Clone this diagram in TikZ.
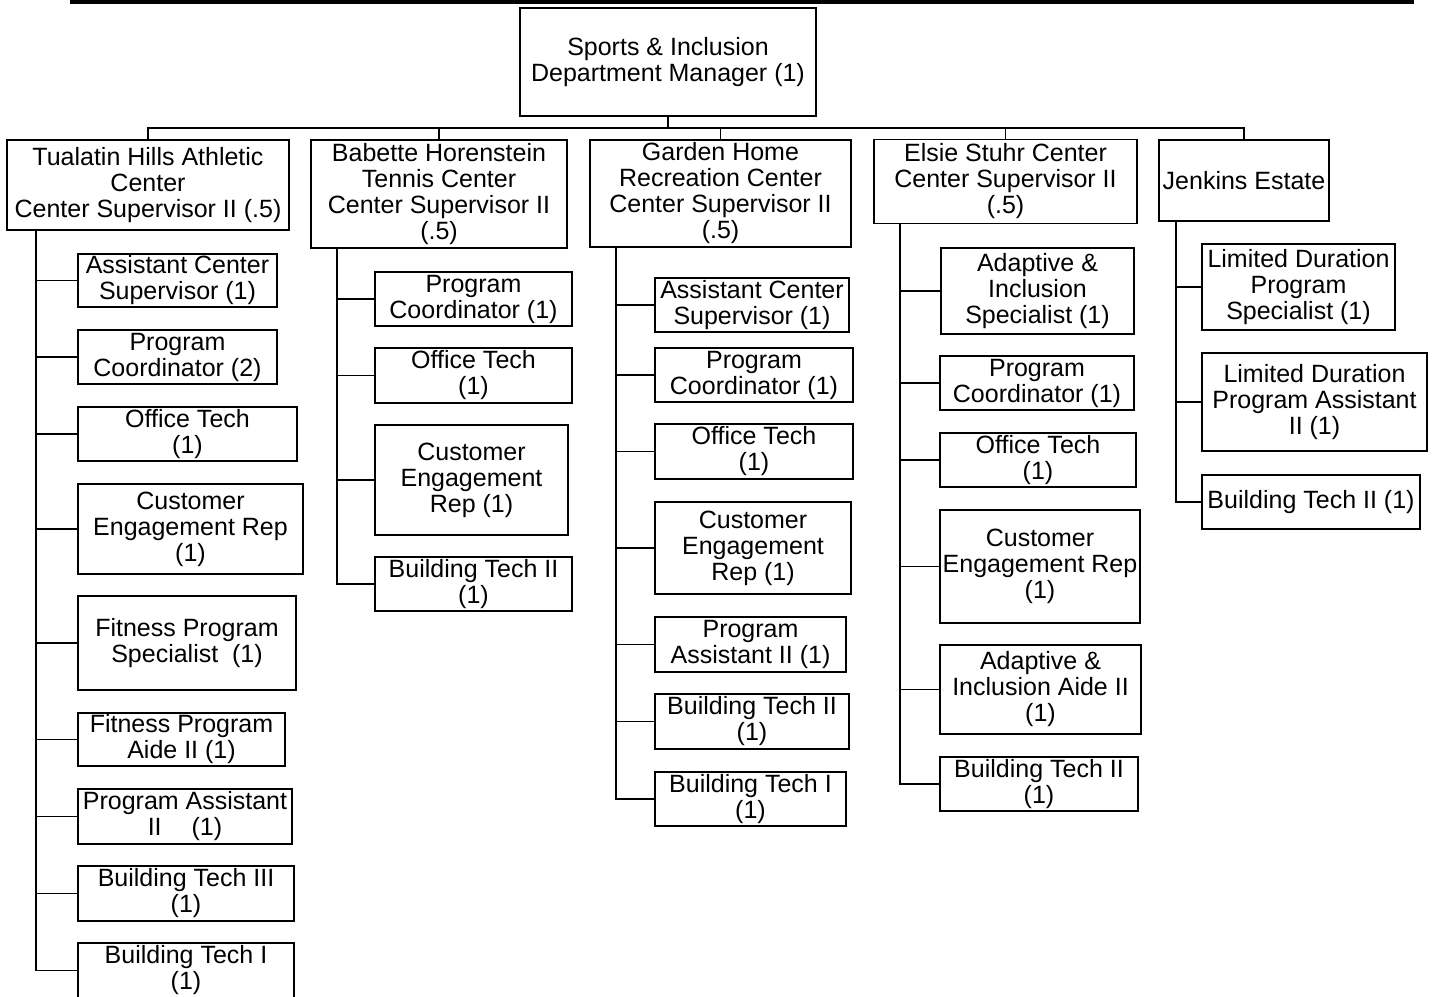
\documentclass[tikz,border=0pt]{standalone}
\usepackage{fontspec}
\setmainfont{Liberation Sans}

\begin{document}
\begin{tikzpicture}[
    x=1pt, y=-1pt,
    job/.style={draw, line width=1.2pt, align=center, inner sep=0pt,
                font=\fontsize{25}{26}\selectfont},
    wh/.style 2 args={minimum width=#1pt, minimum height=#2pt},
    link/.style={line width=1.2pt},
    spine/.style={line width=1.8pt},
]
\useasboundingbox (0,0) rectangle (1432,996);
\draw[line width=4.5pt] (70,2) -- (1414,2);

\node[job, wh={296}{108}] (mgr) at (668,62) {Sports \& Inclusion\\Department Manager (1)};
\node[job, wh={282}{90}]  (tha) at (148,185) {Tualatin Hills Athletic\\Center\\Center Supervisor II (.5)};
\node[job, wh={256}{108}] (bht) at (439,194) {Babette Horenstein\\Tennis Center\\Center Supervisor II\\(.5)};
\node[job, wh={261}{107}] (ghr) at (720.5,193.5) {Garden Home\\Recreation Center\\Center Supervisor II\\(.5)};
\node[job, wh={263}{84}]  (esc) at (1005.5,181.5) {Elsie Stuhr Center\\Center Supervisor II\\(.5)};
\node[job, wh={170}{81}]  (jen) at (1244,180.5) {Jenkins Estate};

\node[job, wh={199}{53}]  (t1) at (177.5,280.5) {Assistant Center\\Supervisor (1)};
\node[job, wh={199}{54}]  (t2) at (177.5,357) {Program\\Coordinator (2)};
\node[job, wh={219}{54}]  (t3) at (187.5,434) {Office Tech\\(1)};
\node[job, wh={225}{90}]  (t4) at (190.5,529) {Customer\\Engagement Rep\\(1)};
\node[job, wh={218}{94}]  (t5) at (187,643) {Fitness Program\\Specialist~~(1)};
\node[job, wh={207}{53}]  (t6) at (181.5,739.5) {Fitness Program\\Aide II (1)};
\node[job, wh={214}{55}]  (t7) at (185,816.5) {Program Assistant\\II\hspace{30pt}(1)};
\node[job, wh={216}{55}]  (t8) at (186,893.5) {Building Tech III\\(1)};
\node[job, wh={216}{55}]  (t9) at (186,970.5) {Building Tech I\\(1)};

\node[job, wh={197}{54}]  (b1) at (473.5,299) {Program\\Coordinator (1)};
\node[job, wh={197}{55}]  (b2) at (473.5,375.5) {Office Tech\\(1)};
\node[job, wh={193}{110}] (b3) at (471.5,480) {Customer\\Engagement\\Rep (1)};
\node[job, wh={197}{54}]  (b4) at (473.5,584) {Building Tech II\\(1)};

\node[job, wh={194}{54}]  (g1) at (752,305) {Assistant Center\\Supervisor (1)};
\node[job, wh={198}{54}]  (g2) at (754,375) {Program\\Coordinator (1)};
\node[job, wh={198}{55}]  (g3) at (754,451.5) {Office Tech\\(1)};
\node[job, wh={196}{92}]  (g4) at (753,548) {Customer\\Engagement\\Rep (1)};
\node[job, wh={191}{55}]  (g5) at (750.5,644.5) {Program\\Assistant II (1)};
\node[job, wh={194}{55}]  (g6) at (752,721.5) {Building Tech II\\(1)};
\node[job, wh={191}{54}]  (g7) at (750.5,799) {Building Tech I\\(1)};

\node[job, wh={193}{86}]  (e1) at (1037.5,291) {Adaptive \&\\Inclusion\\Specialist (1)};
\node[job, wh={194}{54}]  (e2) at (1037,383) {Program\\Coordinator (1)};
\node[job, wh={196}{54}]  (e3) at (1038,460) {Office Tech\\(1)};
\node[job, wh={200}{113}] (e4) at (1040,566.5) {Customer\\Engagement Rep\\(1)};
\node[job, wh={201}{89}]  (e5) at (1040.5,689.5) {Adaptive \&\\Inclusion Aide II\\(1)};
\node[job, wh={198}{54}]  (e6) at (1039,784) {Building Tech II\\(1)};

\node[job, wh={193}{86}]  (j1) at (1298.5,287) {Limited Duration\\Program\\Specialist (1)};
\node[job, wh={225}{98}]  (j2) at (1314.5,402) {Limited Duration\\Program Assistant\\II (1)};
\node[job, wh={218}{54}]  (j3) at (1311,502) {Building Tech II (1)};

\coordinate (bus) at (668,128);
\draw[link] (mgr.south) -- (bus);
\draw[spine] (tha.north) |- (bus) -| (jen.north);
\draw[link] (bus -| bht.north) -- (bht.north);
\draw[link] (bus -| ghr.north) -- (ghr.north);
\draw[link] (bus -| esc.north) -- (esc.north);

\coordinate (thaS) at (36,230);
\coordinate (bhtS) at (337,248);
\coordinate (ghrS) at (616,247);
\coordinate (escS) at (900,224);
\coordinate (jenS) at (1176,221);
\draw[spine] (thaS) |- (t9.west);
\draw[spine] (bhtS) |- (b4.west);
\draw[spine] (ghrS) |- (g7.west);
\draw[spine] (escS) |- (e6.west);
\draw[spine] (jenS) |- (j3.west);
\foreach \i in {1,...,8} \draw[link] (thaS |- t\i.west) -- (t\i.west);
\foreach \i in {1,...,3} \draw[link] (bhtS |- b\i.west) -- (b\i.west);
\foreach \i in {1,...,6} \draw[link] (ghrS |- g\i.west) -- (g\i.west);
\foreach \i in {1,...,5} \draw[link] (escS |- e\i.west) -- (e\i.west);
\foreach \i in {1,2} \draw[link] (jenS |- j\i.west) -- (j\i.west);
\end{tikzpicture}
\end{document}
